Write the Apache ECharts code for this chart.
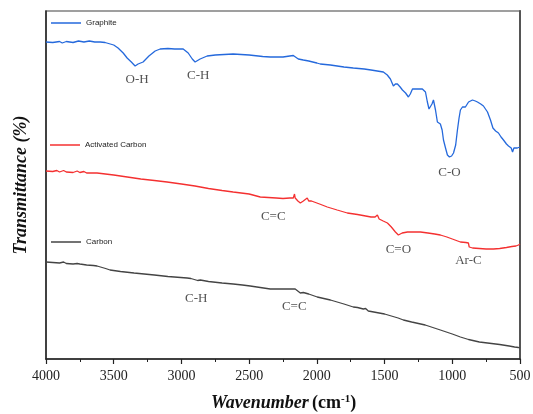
<!DOCTYPE html>
<html>
<head>
<meta charset="utf-8">
<script src="https://cdn.jsdelivr.net/npm/echarts@6/dist/echarts.min.js"></script>
<style>
  html, body { margin: 0; padding: 0; background: #fff; }
  #chart { width: 533px; height: 414px; }
</style>
</head>
<body>
<div id="chart"></div>
<script>
// FTIR spectra: [wavenumber (cm-1), transmittance (offset, arbitrary units)]
const graphite = [
  [4000,317],[3950,316.5],[3900,317.5],[3880,316],[3850,317.5],[3800,316.5],[3760,318],
  [3720,317],[3680,318],[3640,317],[3600,317],[3564,316.5],[3500,314],[3468,311],
  [3430,306],[3401,301],[3370,297],[3342,293],[3320,295],[3283,297],[3240,303],
  [3194,308],[3157,310],[3100,310.5],[3050,310],[2987,310],[2950,306],[2920,300],
  [2899,297],[2862,300],[2810,303],[2750,304],[2618,305],[2500,304],[2400,302.5],
  [2344,302],[2250,302],[2200,303],[2174,303.5],[2160,302],[2137,300],[2100,299],
  [2060,298],[2049,298],[2000,296],[1975,295],[1900,294],[1800,292],[1731,291],
  [1650,290],[1600,289],[1509,287],[1480,284],[1457,280],[1435,273],[1420,275],
  [1405,275],[1385,272],[1368,269],[1345,266],[1324,262],[1310,265],[1294,270],
  [1250,270],[1221,270],[1198,267],[1184,257],[1172,250],[1162,249],[1150,255],
  [1139,259],[1124,249],[1110,237],[1098,236],[1088,235],[1075,229],[1065,219],
  [1050,211],[1036,204],[1021,202],[1005,203],[991,206],[975,214],[962,229],
  [950,241],[940,249],[925,252],[903,252],[880,257],[851,259],[830,258],[814,257],
  [790,255],[770,253],[740,247],[718,239],[700,231],[680,228],[659,226],[640,222],
  [622,219],[600,215],[585,213],[565,211],[555,207],[545,211],[533,213],[520,211],
  [511,212],[500,212]
];

const activatedCarbon = [
  [4000,188],[3950,187.5],[3920,188.5],[3900,187],[3870,188.5],[3850,187],[3800,186.5],
  [3770,188],[3750,186.5],[3720,187.5],[3700,186],[3623,186],[3500,184],[3400,182],
  [3300,180],[3200,178.5],[3106,177],[3000,175],[2900,173],[2800,170.5],[2700,168.5],
  [2618,167],[2500,165],[2418,162],[2300,161],[2250,160.5],[2200,161],[2174,161],
  [2165,165],[2160,161],[2140,158],[2122,156],[2100,158],[2071,161],[2060,158],
  [2040,158],[2026,157],[1980,155],[1923,152],[1850,149],[1775,146],[1700,144.5],
  [1640,143],[1600,142],[1570,142],[1553,144],[1540,140],[1510,138],[1479,136],
  [1450,132],[1420,127],[1398,124],[1370,126],[1331,127],[1280,127],[1235,127],
  [1180,126],[1130,125],[1088,124],[1040,122],[1000,120],[960,118],[940,117],
  [900,116.5],[881,116],[875,112],[873,111],[850,111],[800,110.5],[750,110],
  [696,110],[650,110.5],[600,111.5],[560,112.5],[530,113],[511,114],[500,115]
];

const carbon = [
  [4000,97],[3950,96.5],[3900,96],[3870,97],[3850,95.5],[3800,95],[3770,95.5],
  [3750,95],[3700,94],[3650,93.5],[3623,93],[3560,90.5],[3527,89],[3450,87.5],
  [3350,86],[3200,84],[3100,82.5],[2958,81],[2930,80.5],[2921,79],[2880,78.5],
  [2860,79],[2850,77],[2800,77.5],[2700,76],[2618,75],[2550,74],[2492,73],
  [2418,71.5],[2344,70],[2250,70],[2182,70],[2175,71.5],[2160,70],[2122,66],
  [2100,66.5],[2060,65],[1997,62],[1900,59],[1800,55],[1731,52],[1700,51.5],
  [1657,50],[1640,50.5],[1620,48],[1500,45],[1400,41],[1361,39],[1300,37],
  [1200,34],[1088,29],[1000,25],[940,22],[880,19.5],[800,17],[740,16],[650,14.5],
  [580,13],[540,12],[511,11.5],[500,11]
];

// Band assignments: [wavenumber, transmittance, text]
const graphiteBands = [[3327,279,'O-H'],[2876,283,'C-H'],[1021,186,'C-O']];
const activatedBands = [[2322,142,'C=C'],[1398,109,'C=O'],[881,98,'Ar-C']];
const carbonBands = [[2891,60,'C-H'],[2167,52,'C=C']];

const xTicks = [4000, 3500, 3000, 2500, 2000, 1500, 1000, 500];

const serif = '"Liberation Serif", "Times New Roman", serif';
const sans = '"Liberation Sans", Arial, sans-serif';

function spectrum(name, data, color) {
  return {
    name: name,
    type: 'line',
    data: data,
    showSymbol: false,
    symbol: 'none',
    lineStyle: { color: color, width: 1.3 },
    itemStyle: { color: color },
    emphasis: { disabled: true },
    animation: false
  };
}

// Band labels: transparent scatter points that carry a text label
function bandLabels(bands) {
  return {
    type: 'scatter',
    data: bands.map(b => ({ value: [b[0], b[1]], name: b[2] })),
    symbol: 'circle',
    symbolSize: 2,
    itemStyle: { color: 'rgba(255,255,255,0)' },
    silent: true,
    animation: false,
    z: 5,
    label: {
      show: true,
      position: 'inside',
      formatter: p => p.name,
      fontFamily: serif,
      fontSize: 13,
      color: '#262626'
    },
    emphasis: { disabled: true }
  };
}

function legendAt(name, left, top) {
  return {
    data: [name],
    left: left,
    top: top,
    padding: 0,
    icon: 'rect',
    itemWidth: 30,
    itemHeight: 1.5,
    selectedMode: false,
    textStyle: { fontFamily: sans, fontSize: 8, color: '#222' }
  };
}

const chart = echarts.init(document.getElementById('chart'), null, { renderer: 'canvas' });

chart.setOption({
  animation: false,
  backgroundColor: '#fff',
  grid: {
    left: 46, right: 13, top: 11, bottom: 55,
    outerBoundsMode: 'none',
    containLabel: false,
    show: true,
    borderColor: '#808080',
    borderWidth: 1.5
  },
  legend: [
    legendAt('Graphite', 51, 19),
    legendAt('Activated Carbon', 50, 141),
    legendAt('Carbon', 51, 238)
  ],
  xAxis: {
    type: 'value',
    inverse: true,
    min: 500,
    max: 4000,
    interval: 500,
    axisLine: { show: true, onZero: false, lineStyle: { color: '#222', width: 1.5 } },
    axisTick: { show: true, inside: false, length: 5, lineStyle: { color: '#222', width: 1.2 } },
    minorTick: { show: true, splitNumber: 2, length: 3, lineStyle: { color: '#222', width: 1 } },
    splitLine: { show: false },
    axisLabel: {
      margin: 10,
      fontFamily: serif,
      fontSize: 14,
      color: '#222',
      showMinLabel: true,
      showMaxLabel: true,
      formatter: v => (xTicks.indexOf(v) >= 0 ? String(v) : '')
    }
  },
  yAxis: [
    {
      type: 'value',
      min: 0,
      max: 348,
      name: 'Transmittance (%)',
      nameLocation: 'middle',
      nameGap: 16,
      nameTextStyle: {
        fontFamily: serif,
        fontSize: 18,
        fontWeight: 'bold',
        fontStyle: 'italic',
        color: '#111'
      },
      axisLine: { show: true, onZero: false, lineStyle: { color: '#222', width: 1.5 } },
      axisTick: { show: false },
      axisLabel: { show: false },
      splitLine: { show: false }
    },
    {
      type: 'value',
      position: 'right',
      min: 0,
      max: 348,
      axisLine: { show: true, onZero: false, lineStyle: { color: '#555', width: 2 } },
      axisTick: { show: false },
      axisLabel: { show: false },
      splitLine: { show: false }
    }
  ],
  graphic: [
    {
      type: 'text',
      left: 211,
      top: 394,
      style: {
        text: '{a|Wavenumber} {b|(cm}{c|-1}{b|)}',
        rich: {
          a: { fontFamily: serif, fontSize: 18, fontWeight: 'bold', fontStyle: 'italic', fill: '#111' },
          b: { fontFamily: serif, fontSize: 18, fontWeight: 'bold', fill: '#111' },
          c: { fontFamily: serif, fontSize: 11, fontWeight: 'bold', fill: '#111', padding: [0, 0, 8, 0] }
        }
      }
    }
  ],
  series: [
    spectrum('Graphite', graphite, '#2569dc'),
    spectrum('Activated Carbon', activatedCarbon, '#f43030'),
    spectrum('Carbon', carbon, '#444444'),
    bandLabels(graphiteBands),
    bandLabels(activatedBands),
    bandLabels(carbonBands)
  ]
});
</script>
</body>
</html>
